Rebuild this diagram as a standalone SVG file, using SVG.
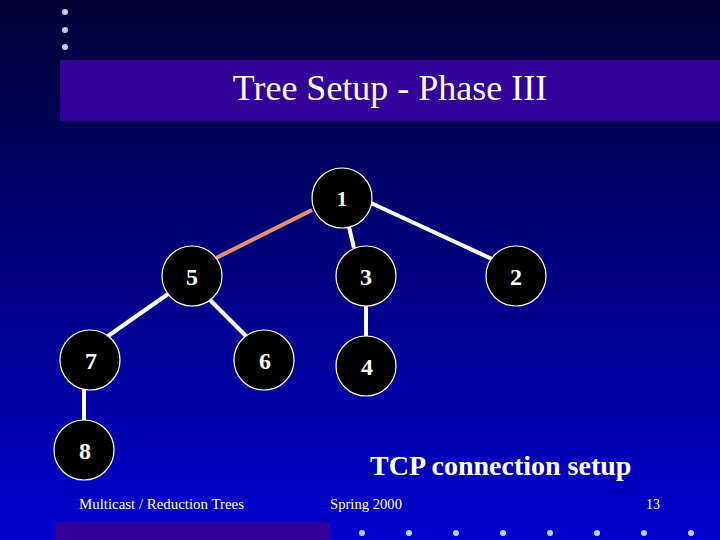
<svg xmlns="http://www.w3.org/2000/svg" width="720" height="540" viewBox="0 0 720 540">
<defs>
<linearGradient id="bg" x1="0" y1="0" x2="0" y2="1">
<stop offset="0" stop-color="#000033"/>
<stop offset="0.5" stop-color="#000080"/>
<stop offset="1" stop-color="#0000d0"/>
</linearGradient>
<style>
.node circle{fill:#000;stroke:#fff;stroke-width:1.2}
.node text{fill:#fff;font-family:"Liberation Serif",serif;font-weight:bold;font-size:24px;text-anchor:middle}
.edge{stroke:#fff;stroke-width:4;stroke-linecap:butt}
.dot{fill:#c8c8e8}
.foot{fill:#fff;font-family:"Liberation Serif",serif;font-size:14px}
</style>
</defs>
<rect width="720" height="540" fill="url(#bg)"/>
<g id="decor">
<circle class="dot" cx="65" cy="12" r="3"/>
<circle class="dot" cx="65" cy="30" r="3"/>
<circle class="dot" cx="65" cy="47" r="3"/>
<rect x="60" y="60" width="660" height="61" fill="#330099"/>
<rect x="55" y="522" width="275" height="18" fill="#330099"/>
<circle class="dot" cx="362" cy="533" r="3"/>
<circle class="dot" cx="409" cy="533" r="3"/>
<circle class="dot" cx="456" cy="533" r="3"/>
<circle class="dot" cx="503" cy="533" r="3"/>
<circle class="dot" cx="550" cy="533" r="3"/>
<circle class="dot" cx="597" cy="533" r="3"/>
<circle class="dot" cx="644" cy="533" r="3"/>
<circle class="dot" cx="691" cy="533" r="3"/>
</g>
<text x="390" y="100" fill="#fff" font-family="Liberation Serif, serif" font-size="36" text-anchor="middle">Tree Setup - Phase III</text>
<g id="connectors">
<line x1="312" y1="210" x2="216" y2="258" stroke="#e89070" stroke-width="4"/>
<line class="edge" x1="349" y1="227" x2="354" y2="248"/>
<line class="edge" x1="371" y1="203" x2="492" y2="259"/>
<line class="edge" x1="168" y1="294" x2="108" y2="336"/>
<line class="edge" x1="210" y1="300" x2="246" y2="336"/>
<line class="edge" x1="366" y1="306" x2="366" y2="337"/>
<line class="edge" x1="84" y1="389" x2="84" y2="421"/>
</g>
<g id="n1" class="node"><circle cx="342" cy="198" r="30"/><text x="342" y="206" style="font-size:21px">1</text></g>
<g id="n5" class="node"><circle cx="192" cy="276" r="30"/><text x="192" y="285">5</text></g>
<g id="n3" class="node"><circle cx="366" cy="276" r="30"/><text x="366" y="285">3</text></g>
<g id="n2" class="node"><circle cx="516" cy="276" r="30"/><text x="516" y="285">2</text></g>
<g id="n7" class="node"><circle cx="90" cy="360" r="30"/><text x="91" y="369">7</text></g>
<g id="n6" class="node"><circle cx="264" cy="360" r="30"/><text x="265" y="369">6</text></g>
<g id="n4" class="node"><circle cx="366" cy="366" r="30"/><text x="367" y="375">4</text></g>
<g id="n8" class="node"><circle cx="84" cy="450" r="30"/><text x="85" y="459">8</text></g>
<text x="370" y="475" fill="#fff" font-family="Liberation Serif, serif" font-weight="bold" font-size="28">TCP connection setup</text>
<text class="foot" x="79" y="509" textLength="165" lengthAdjust="spacingAndGlyphs">Multicast / Reduction Trees</text>
<text class="foot" x="330" y="509" textLength="72" lengthAdjust="spacingAndGlyphs">Spring 2000</text>
<text class="foot" x="646" y="509">13</text>
</svg>
